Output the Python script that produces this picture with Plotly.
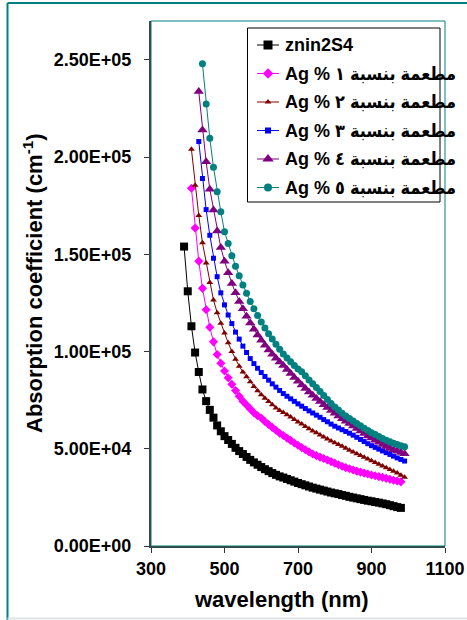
import plotly.graph_objects as go

# ---------------- data ----------------
wl_base = [390 + 10 * i for i in range(60)]            # 390 .. 980
alpha_base = [154000, 131000, 113000, 99500, 89500, 80500, 74500, 70000, 66000, 62000,
              59000, 56500, 54500, 52500, 50500, 48800, 47300, 45800, 44300, 43000,
              41800, 40600, 39500, 38500, 37500, 36600, 35800, 35200, 34500, 33800,
              33100, 32400, 31800, 31200, 30600, 30000, 29500, 29000, 28500, 28000,
              27500, 27100, 26700, 26200, 25800, 25300, 24900, 24500, 24100, 23700,
              23300, 23000, 22600, 22300, 21900, 21500, 21000, 20500, 20000, 19600]

wl_ag1 = [410 + 10 * i for i in range(58)]             # 410 .. 980
alpha_ag1 = [184000, 163500, 146500, 132500, 121500, 112500, 105000, 98500, 94000, 90000,
             86500, 83200, 80000, 77000, 74500, 72500, 70500, 68500, 67000, 65800,
             64000, 62500, 61000, 59500, 58000, 56800, 55500, 54300, 53000, 51800,
             50600, 49500, 48400, 47300, 46500, 45700, 45000, 44200, 43400, 42600,
             41800, 41000, 40300, 39700, 39100, 38500, 38000, 37500, 37000, 36500,
             36100, 35700, 35300, 34800, 34300, 33800, 33400, 33000]

wl_ag2 = [410 + 10 * i for i in range(59)]             # 410 .. 990
alpha_ag2 = [204000, 185500, 170000, 156000, 145500, 135500, 126500, 120000, 114500, 109500,
             104500, 100000, 96000, 92500, 89500, 87000, 84500, 82000, 79800, 77800,
             76000, 74300, 72600, 71000, 69700, 68700, 67500, 66300, 65000, 63800,
             62700, 61500, 60300, 59200, 58200, 57100, 56000, 55000, 54000, 53100,
             52200, 51300, 50300, 49300, 48400, 47500, 46600, 45700, 44800, 43900,
             43000, 42100, 41200, 40300, 39400, 38500, 37500, 36400, 35400]

wl_ag3 = [430 + 10 * i for i in range(57)]             # 430 .. 990
alpha_ag3 = [208000, 189000, 173000, 159800, 148000, 138500, 130200, 124000, 118800, 114400,
             110000, 106400, 102800, 99500, 96400, 93800, 91400, 89200, 87200, 85300,
             83400, 81700, 80000, 78400, 77000, 75700, 74400, 73100, 71900, 70700,
             69500, 68400, 67300, 66200, 65000, 63900, 62700, 61600, 60700, 59800,
             58900, 58000, 57000, 55900, 54800, 53700, 52600, 51600, 50700, 49800,
             48900, 48000, 47100, 46200, 45300, 44500, 43700]

wl_ag4 = [430 + 10 * i for i in range(57)]             # 430 .. 990
alpha_ag4 = [233700, 214000, 197600, 183500, 172800, 162000, 153500, 146500, 140500, 135000,
             130200, 125800, 122000, 118200, 114700, 111500, 108500, 105800, 103300, 100800,
             98600, 96500, 94600, 92800, 90800, 88700, 86700, 84700, 82800, 81000,
             79200, 77500, 75900, 74300, 72700, 71200, 69700, 68300, 66900, 65500,
             64200, 63000, 61700, 60400, 59100, 57800, 56600, 55500, 54400, 53300,
             52200, 51200, 50300, 49500, 48800, 48100, 47500]

wl_ag5 = [440 + 10 * i for i in range(56)]             # 440 .. 990
alpha_ag5 = [248000, 227300, 209700, 194800, 182200, 171900, 161600, 155600, 149300, 143900,
             139000, 134200, 130000, 125700, 122000, 118500, 115200, 112100, 109200, 106400,
             103700, 101200, 98800, 96700, 94700, 92800, 91000, 89600, 87500, 85400,
             83400, 81500, 79500, 77400, 75300, 73300, 71500, 69900, 68300, 66900,
             65600, 64300, 63000, 61800, 60600, 59400, 58300, 57300, 56300, 55300,
             54400, 53600, 52900, 52200, 51600, 51000]

names = ["znin2S4",
         "Ag % مطعمة بنسبة ١",
         "Ag % مطعمة بنسبة ٢",
         "Ag % مطعمة بنسبة ٣",
         "Ag % مطعمة بنسبة ٤",
         "Ag % مطعمة بنسبة ٥"]

y_tickvals = [0, 50000, 100000, 150000, 200000, 250000]
y_ticktext = ["0.00E+00", "5.00E+04", "1.00E+05", "1.50E+05", "2.00E+05", "2.50E+05"]
x_tickvals = [300, 500, 700, 900, 1100]
x_ticktext = ["300", "500", "700", "900", "1100"]

# ---------------- styling ----------------
FONT = "Liberation Sans, Arial, sans-serif"
LEG_FONT = "Liberation Sans, DejaVu Sans Condensed, DejaVu Sans, sans-serif"
series = [
    (wl_base, alpha_base, "#000000", "square", 8, 9),
    (wl_ag1, alpha_ag1, "#FF00FF", "diamond", 7, 8),
    (wl_ag2, alpha_ag2, "#800000", "triangle-up", 6, 6),
    (wl_ag3, alpha_ag3, "#0000FF", "square", 5, 6),
    (wl_ag4, alpha_ag4, "#800080", "triangle-up", 9, 10),
    (wl_ag5, alpha_ag5, "#008080", "circle", 7, 8),
]

W, H = 467, 620
L, R, T, B = 151, 22, 21, 74
PW, PH = W - L - R, H - T - B


def px2x(px):
    return (px - L) / PW


def px2y(py):
    return (H - B - py) / PH


fig = go.Figure()
for i, ((x, y, col, sym, sz, lsz), nm) in enumerate(zip(series, names)):
    fig.add_trace(go.Scatter(
        x=x, y=y, name=nm, mode="lines+markers", showlegend=False,
        line=dict(color=col, width=1),
        marker=dict(symbol=sym, size=sz, color=col, line=dict(width=0)),
    ))

# ---- hand-made legend drawn on a pixel-scaled overlay axis ----
LEG_X0, LEG_X1, LEG_Y0, LEG_Y1 = 247.5, 440, 28, 202
ROW0, ROW_DY = 45, 28.5
shapes = [
    dict(type="rect", xref="paper", yref="paper", x0=0, y0=0, x1=1, y1=1,
         line=dict(color="#008080", width=1), layer="below"),
    dict(type="rect", xref="x2", yref="y2", x0=LEG_X0, x1=LEG_X1, y0=LEG_Y0, y1=LEG_Y1,
         line=dict(color="black", width=1), fillcolor="white", layer="below"),
    # outer chart border
    dict(type="line", xref="paper", yref="paper", x0=px2x(7.5), x1=px2x(480),
         y0=px2y(3), y1=px2y(3), line=dict(color="#008080", width=2)),
    dict(type="line", xref="paper", yref="paper", x0=px2x(7.5), x1=px2x(7.5),
         y0=px2y(3), y1=px2y(630), line=dict(color="#008080", width=2)),
    dict(type="line", xref="paper", yref="paper", x0=px2x(7.5), x1=px2x(480),
         y0=px2y(618.5), y1=px2y(618.5), line=dict(color="#DDE6E6", width=2)),
]
annotations = []
for i, ((x, y, col, sym, sz, lsz), nm) in enumerate(zip(series, names)):
    yy = ROW0 + ROW_DY * i
    shapes.append(dict(type="line", xref="x2", yref="y2", x0=257, x1=279, y0=yy, y1=yy,
                       line=dict(color=col, width=1)))
    fig.add_trace(go.Scatter(
        x=[268], y=[yy], xaxis="x2", yaxis="y2", mode="markers", showlegend=False,
        hoverinfo="skip", cliponaxis=False,
        marker=dict(symbol=sym, size=lsz, color=col, line=dict(width=0)),
    ))
    annotations.append(dict(
        text=f"<b>{nm}</b>", xref="x2", yref="y2", x=283, y=yy,
        xanchor="left", yanchor="middle", showarrow=False,
        font=dict(family=LEG_FONT, size=18, color="black")))

annotations += [
    dict(text="<b>wavelength (nm)</b>", xref="paper", yref="paper",
         x=px2x(281), y=px2y(599), xanchor="center", yanchor="middle",
         showarrow=False, font=dict(family=FONT, size=22, color="black")),
    dict(text="<b>Absorption coefficient (cm<sup>-1</sup>)</b>", xref="paper", yref="paper",
         x=px2x(33), y=px2y(283), xanchor="center", yanchor="middle", textangle=-90,
         showarrow=False, font=dict(family=FONT, size=22, color="black")),
]

fig.update_layout(
    width=W, height=H,
    margin=dict(l=L, r=R, t=T, b=B, autoexpand=False),
    paper_bgcolor="white", plot_bgcolor="white",
    font=dict(family=FONT, color="black"),
    showlegend=False,
    hovermode=False,
    xaxis=dict(
        range=[300, 1100], tickvals=x_tickvals, ticktext=x_ticktext,
        ticks="outside", ticklen=5, tickcolor="#333333",
        showgrid=False, zeroline=False,
        showline=True, linecolor="#2F4F4F", linewidth=2,
        tickfont=dict(family=FONT, size=18, color="black", weight="bold"),
        ticklabelstandoff=0,
    ),
    yaxis=dict(
        range=[0, 270000], tickvals=y_tickvals, ticktext=y_ticktext,
        ticks="outside", ticklen=5, tickcolor="#333333",
        showgrid=False, zeroline=False,
        showline=True, linecolor="#2F4F4F", linewidth=2,
        tickfont=dict(family=FONT, size=18, color="black", weight="bold"),
        ticklabelstandoff=9,
    ),
    xaxis2=dict(overlaying="x", range=[L, W - R], visible=False, fixedrange=True),
    yaxis2=dict(overlaying="y", range=[H - B, T], visible=False, fixedrange=True),
    shapes=shapes,
    annotations=annotations,
)

fig.write_html("out.html", config={"displayModeBar": False},
               post_script="document.body.style.margin='0';")
